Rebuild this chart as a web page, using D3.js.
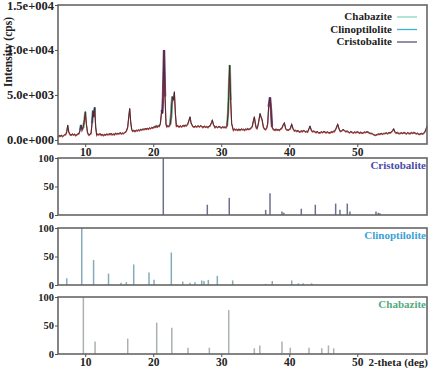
<!DOCTYPE html>
<html>
<head>
<meta charset="utf-8">
<script src="https://cdn.jsdelivr.net/npm/d3@7"></script>
<style>
  body { margin: 0; background: #fff; }
  svg text { font-family: "Liberation Serif", "DejaVu Serif", serif; font-weight: bold; }
</style>
</head>
<body>
<svg id="chart" width="430" height="372"></svg>
<script>
// measured pattern: 2-theta (deg) and intensity (cps)
let theta = [6.0, 6.15, 6.3, 6.5, 6.65, 6.79, 6.95, 7.13, 7.28, 7.43, 7.58, 7.77, 7.95, 8.1, 8.26, 8.45, 8.6, 8.75, 8.92, 9.09,
  9.24, 9.39, 9.54, 9.73, 9.88, 10.03, 10.17, 10.32, 10.45, 10.56, 10.72, 10.86, 11.0, 11.15, 11.25, 11.4, 11.54, 11.69, 11.85, 12.0,
  12.18, 12.35, 12.5, 12.67, 12.85, 13.0, 13.16, 13.35, 13.5, 13.65, 13.8, 13.95, 14.14, 14.3, 14.45, 14.63, 14.8, 14.95, 15.12, 15.3,
  15.45, 15.61, 15.8, 15.95, 16.1, 16.25, 16.4, 16.54, 16.69, 16.84, 17.0, 17.15, 17.32, 17.5, 17.65, 17.82, 18.0, 18.15, 18.3, 18.5,
  18.65, 18.8, 18.95, 19.1, 19.29, 19.45, 19.6, 19.78, 19.95, 20.1, 20.27, 20.45, 20.6, 20.76, 20.9, 21.05, 21.25, 21.34, 21.44, 21.59,
  21.74, 21.88, 22.0, 22.13, 22.3, 22.47, 22.6, 22.81, 22.96, 23.11, 23.26, 23.4, 23.6, 23.79, 24.0, 24.18, 24.4, 24.55, 24.67, 24.85,
  25.07, 25.26, 25.41, 25.56, 25.8, 26.0, 26.2, 26.39, 26.6, 26.8, 26.95, 27.12, 27.3, 27.5, 27.7, 27.86, 28.05, 28.2, 28.35, 28.55,
  28.69, 28.84, 29.08, 29.25, 29.45, 29.65, 29.82, 30.0, 30.2, 30.38, 30.55, 30.7, 30.85, 31.0, 31.09, 31.24, 31.39, 31.53, 31.78, 31.95,
  32.1, 32.27, 32.45, 32.6, 32.76, 32.95, 33.1, 33.25, 33.45, 33.6, 33.74, 33.9, 34.05, 34.23, 34.4, 34.57, 34.72, 34.87, 35.01, 35.15,
  35.26, 35.38, 35.5, 35.7, 35.85, 36.0, 36.19, 36.35, 36.53, 36.7, 36.83, 36.97, 37.17, 37.32, 37.46, 37.65, 37.9, 38.05, 38.2, 38.39,
  38.55, 38.7, 38.88, 39.08, 39.28, 39.47, 39.65, 39.86, 40.0, 40.16, 40.35, 40.55, 40.75, 40.94, 41.1, 41.3, 41.45, 41.58, 41.75, 41.9,
  42.05, 42.22, 42.4, 42.55, 42.71, 42.9, 43.05, 43.25, 43.4, 43.6, 43.78, 43.95, 44.1, 44.3, 44.52, 44.7, 44.9, 45.05, 45.25, 45.4,
  45.6, 45.8, 45.99, 46.15, 46.3, 46.48, 46.63, 46.87, 47.12, 47.31, 47.5, 47.7, 47.9, 48.1, 48.3, 48.5, 48.68, 48.85, 49.05, 49.25,
  49.42, 49.6, 49.8, 50.0, 50.15, 50.35, 50.55, 50.7, 50.89, 51.05, 51.25, 51.45, 51.62, 51.8, 52.0, 52.21, 52.4, 52.55, 52.7, 52.9,
  53.1, 53.34, 53.5, 53.7, 53.9, 54.07, 54.25, 54.45, 54.65, 54.81, 55.0, 55.15, 55.35, 55.54, 55.7, 55.9, 56.1, 56.28, 56.45, 56.65,
  56.85, 57.01, 57.2, 57.4, 57.6, 57.75, 57.95, 58.15, 58.3, 58.48, 58.65, 58.85, 59.05, 59.22, 59.4, 59.55, 59.71, 59.9, 60.05, 60.25];
let counts = [370, 520, 430, 560, 420, 500, 600, 630, 925, 1667, 925, 630, 560, 700, 600, 680, 520, 600, 700, 740,
  1110, 1667, 1185, 1481, 2222, 3150, 1852, 925, 650, 555, 700, 740, 1852, 3260, 2593, 3630, 1481, 555, 700, 600,
  740, 560, 650, 520, 660, 580, 700, 600, 720, 640, 760, 600, 700, 620, 780, 680, 760, 700, 850, 720,
  800, 740, 860, 925, 1100, 1481, 2593, 3520, 2037, 1185, 1000, 1100, 980, 1120, 1050, 1150, 1080, 1220, 1150, 1250,
  1180, 1300, 1220, 1320, 1250, 1380, 1300, 1420, 1360, 1500, 1440, 1560, 1480, 1600, 1550, 1852, 3333, 2963, 4815, 10000,
  4815, 1778, 1500, 1620, 1520, 1700, 2400, 4815, 4444, 5370, 2963, 1556, 1620, 1480, 1600, 1500, 1650, 1560, 1680, 1600,
  1778, 2222, 2593, 1926, 1556, 1450, 1580, 1481, 1600, 1500, 1620, 1556, 1420, 1560, 1450, 1520, 1420, 1560, 1600, 1926,
  2222, 1778, 1407, 1540, 1420, 1520, 1481, 1380, 1500, 1420, 1480, 1400, 1556, 2963, 4815, 8333, 4444, 1852, 1110, 1250,
  1150, 1220, 1100, 1240, 1110, 1260, 1180, 1222, 1120, 1260, 1185, 1300, 1200, 1260, 1380, 1556, 2148, 2593, 1852, 1350,
  1296, 1600, 2037, 2963, 2593, 2296, 1481, 1250, 1185, 1400, 1852, 3704, 4740, 3333, 1481, 1200, 1110, 1250, 1130, 1185,
  1100, 1260, 1296, 1667, 1926, 1296, 1150, 1110, 1220, 1296, 1778, 1296, 1050, 1110, 980, 1080, 940, 925, 1060, 950,
  1080, 1037, 930, 1000, 925, 1296, 1556, 1110, 960, 1020, 925, 860, 980, 840, 815, 950, 850, 970, 925, 820,
  930, 840, 815, 950, 870, 1000, 963, 1296, 1778, 1296, 980, 1037, 1180, 1110, 960, 1020, 925, 840, 960, 870,
  815, 920, 840, 950, 890, 800, 900, 780, 815, 920, 860, 950, 890, 800, 760, 740, 620, 580, 555, 620,
  700, 666, 760, 680, 760, 740, 820, 740, 850, 815, 900, 1037, 1260, 925, 800, 860, 760, 740, 840, 760,
  860, 815, 720, 840, 760, 740, 850, 780, 860, 815, 720, 780, 660, 666, 760, 700, 740, 900, 1110, 1556];

// reference sticks (relative intensity %)
let cristoPos = [21.48, 27.95, 31.18, 36.53, 37.17, 38.93, 39.2, 41.77, 43.83, 46.82, 47.45, 48.53, 48.92, 52.75, 53.09, 53.33];
let cristoRel = [100, 18, 30, 9, 38, 6, 4, 11, 18, 20, 9, 20, 6, 6, 4, 3];
let clinoPos = [7.29, 9.49, 11.23, 13.43, 15.27, 16.05, 17.13, 19.38, 20.12, 22.66, 24.34, 25.41, 26.14, 27.13, 27.47, 28.1,
  29.42, 31.68, 36.53, 37.5, 40.36, 41.33, 42.06, 43.29];
let clinoRel = [12, 100, 44, 20, 4, 5, 36, 22, 9, 57, 6, 4, 5, 8, 7, 9, 16, 8, 2, 7, 8, 3, 3, 3];
let chabPos = [9.73, 11.45, 16.25, 20.51, 22.73, 25.11, 28.25, 31.1, 34.86, 35.67, 38.93, 40.15, 42.9, 44.78, 45.76, 46.53];
let chabRel = [100, 22, 27, 55, 46, 11, 11, 77, 10, 15, 22, 11, 11, 10, 15, 10];

let phaseNames = ["Chabazite", "Clinoptilolite", "Cristobalite"];
let xTicks = [10, 20, 30, 40, 50];
let yTicksTop = [0, 5000, 10000, 15000];
let yLabelsTop = ["0.0e+000", "5.0e+003", "1.0e+004", "1.5e+004"];
let yTicksStick = [0, 50, 100];

let svg = d3.select("#chart");
const L = 58, R = 427;

let x = d3.scaleLinear().domain([6, 60.25]).range([L, R]);
let yTop = d3.scaleLinear().domain([-450, 15000]).range([144, 5]);

let pattern = theta.map((t, i) => ({ t: t, c: counts[i] }));

function styleTicks(axisG, size) {
  axisG.attr("font-family", null).attr("font-size", null);
  axisG.select(".domain").remove();
  axisG.selectAll("line").attr("stroke", "#555");
  axisG.selectAll("text").attr("font-size", size).attr("fill", "#222");
}

// top panel
let topPanel = svg.append("g");

let phaseDraw = [
  { pos: clinoPos, rel: clinoRel, color: "#2f95c8" },
  { pos: chabPos, rel: chabRel, color: "#72c493" },
  { pos: cristoPos, rel: cristoRel, color: "#6e3f8c" }];

phaseDraw.forEach(p => {
  let strong = p.pos.filter((d, i) => p.rel[i] >= 38);
  let inWin = d => strong.some(s => Math.abs(d.t - s) <= 0.3);
  topPanel.append("path").
  datum(pattern).
  attr("fill", "none").
  attr("stroke", p.color).
  attr("stroke-width", 2.4).
  attr("d", d3.line().defined(inWin).x(d => x(d.t)).y(d => yTop(d.c)));
});

topPanel.append("path").
datum(pattern).
attr("fill", "none").
attr("stroke", "#c0403c").
attr("stroke-width", 1.2).
attr("transform", "translate(0,0.7)").
attr("d", d3.line().x(d => x(d.t)).y(d => yTop(d.c)));

topPanel.append("path").
datum(pattern).
attr("fill", "none").
attr("stroke", "#3a2c38").
attr("stroke-width", 0.9).
attr("d", d3.line().x(d => x(d.t)).y(d => yTop(d.c)));

topPanel.append("rect").
attr("x", L).attr("y", 5).
attr("width", R - L).attr("height", 139).
attr("fill", "none").attr("stroke", "#666").attr("stroke-width", 1.6);

let yAxisTop = topPanel.append("g").
attr("transform", "translate(" + L + ",0)").
call(d3.axisLeft(yTop).tickValues(yTicksTop).tickSize(3).tickPadding(1).
tickFormat((d, i) => yLabelsTop[i]));
styleTicks(yAxisTop, 12.5);

let xAxisTop = topPanel.append("g").
attr("transform", "translate(0,144)").
call(d3.axisBottom(x).tickValues(xTicks).tickSize(3).tickPadding(1));
styleTicks(xAxisTop, 11.5);

topPanel.append("text").
attr("transform", "translate(12,52) rotate(-90)").
attr("text-anchor", "middle").
attr("font-size", 11.5).
attr("fill", "#222").
text("Intensity (cps)");

// legend
let legendColors = ["#8cd6c4", "#3cb2d2", "#575774"];
let legend = topPanel.selectAll(".legend-item").
data(phaseNames).
enter().append("g").
attr("class", "legend-item").
attr("transform", (d, i) => "translate(0," + (20 + i * 12.5) + ")");

legend.append("text").
attr("x", 392).
attr("text-anchor", "end").
attr("font-size", 11).
attr("fill", "#222").
text(d => d);

legend.append("line").
attr("x1", 397).attr("x2", 417).
attr("y1", -3).attr("y2", -3).
attr("stroke", (d, i) => legendColors[i]).
attr("stroke-width", 1.3);

// stick panels
let panels = [
  { name: "Cristobalite", pos: cristoPos, rel: cristoRel, top: 158, bottom: 215, stick: "#6c7090", title: "#4a4aa6" },
  { name: "Clinoptilolite", pos: clinoPos, rel: clinoRel, top: 228, bottom: 285, stick: "#86aabb", title: "#3ba2d4" },
  { name: "Chabazite", pos: chabPos, rel: chabRel, top: 297, bottom: 354, stick: "#aab2ad", title: "#52aa7c" }];

panels.forEach((p, k) => {
  let y = d3.scaleLinear().domain([0, 100]).range([p.bottom, p.top]);
  let g = svg.append("g");

  g.selectAll("line.stick").
  data(p.pos).
  enter().append("line").
  attr("class", "stick").
  attr("x1", d => x(d)).attr("x2", d => x(d)).
  attr("y1", y(0)).
  attr("y2", (d, i) => y(p.rel[i])).
  attr("stroke", p.stick).
  attr("stroke-width", 1.5);

  g.append("rect").
  attr("x", L).attr("y", p.top).
  attr("width", R - L).attr("height", p.bottom - p.top).
  attr("fill", "none").attr("stroke", "#666").attr("stroke-width", 1.6);

  let ya = g.append("g").
  attr("transform", "translate(" + L + ",0)").
  call(d3.axisLeft(y).tickValues(yTicksStick).tickSize(3).tickPadding(1));
  styleTicks(ya, 10.5);

  g.append("text").
  attr("x", R - 1).
  attr("y", p.top + 11).
  attr("text-anchor", "end").
  attr("font-size", 11).
  attr("fill", p.title).
  text(p.name);

  if (k === panels.length - 1) {
    let xa = g.append("g").
    attr("transform", "translate(0," + p.bottom + ")").
    call(d3.axisBottom(x).tickValues(xTicks).tickSize(3).tickPadding(1));
    styleTicks(xa, 11.5);

    g.append("text").
    attr("x", 428).
    attr("y", p.bottom + 12).
    attr("text-anchor", "end").
    attr("font-size", 11).
    attr("fill", "#222").
    text("2-theta (deg)");
  }
});
</script>
</body>
</html>
